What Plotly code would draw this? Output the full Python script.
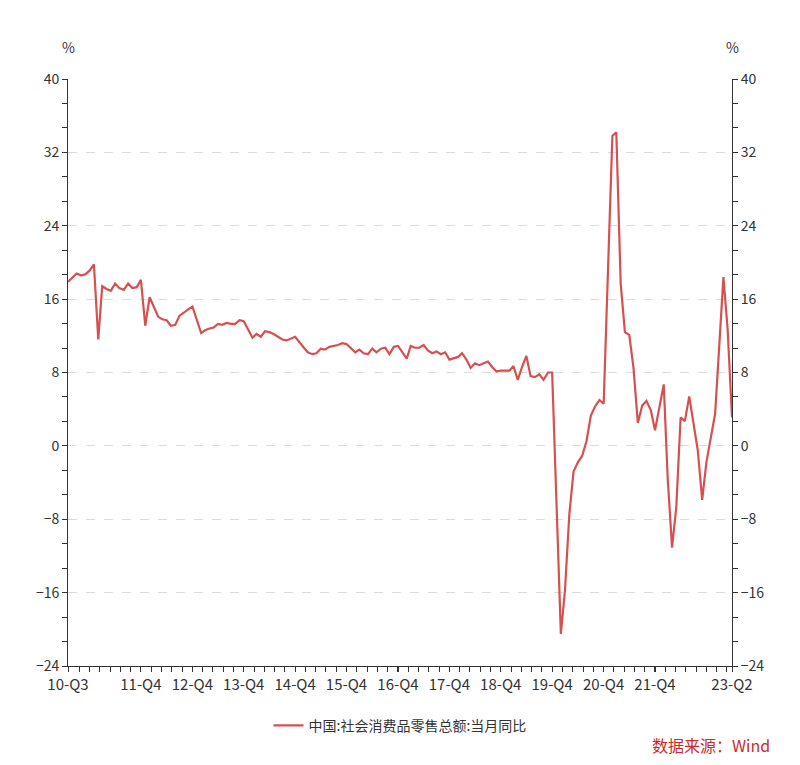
import datetime as dt
import plotly.graph_objects as go

# ---- data (中国:社会消费品零售总额:当月同比, %) ----
MONTHS_2010 = [7, 8, 9, 10, 11, 12]
MONTHS_FULL = [1, 2, 3, 4, 5, 6, 7, 8, 9, 10, 11, 12]
MONTHS_JF = [2, 3, 4, 5, 6, 7, 8, 9, 10, 11, 12]
MONTHS_2023 = [2, 3, 4, 5, 6]

y2010 = [17.9, 18.4, 18.8, 18.6, 18.7, 19.1]
y2011 = [19.8, 11.6, 17.4, 17.1, 16.9, 17.7, 17.2, 17.0, 17.7, 17.2, 17.3, 18.1]
y2012 = [13.1, 16.2, 15.2, 14.1, 13.8, 13.7, 13.1, 13.2, 14.2, 14.5, 14.9, 15.2]
y2013 = [12.3, 12.6, 12.8, 12.9, 13.3, 13.2, 13.4, 13.3, 13.3, 13.7, 13.6]
y2014 = [11.8, 12.2, 11.9, 12.5, 12.4, 12.2, 11.9, 11.6, 11.5, 11.7, 11.9]
y2015 = [10.7, 10.2, 10.0, 10.1, 10.6, 10.5, 10.8, 10.9, 11.0, 11.2, 11.1]
y2016 = [10.2, 10.5, 10.1, 10.0, 10.6, 10.2, 10.6, 10.7, 10.0, 10.8, 10.9]
y2017 = [9.5, 10.9, 10.7, 10.7, 11.0, 10.4, 10.1, 10.3, 10.0, 10.2, 9.4]
y2018 = [9.7, 10.1, 9.4, 8.5, 9.0, 8.8, 9.0, 9.2, 8.6, 8.1, 8.2]
y2019 = [8.2, 8.7, 7.2, 8.6, 9.8, 7.6, 7.5, 7.8, 7.2, 8.0, 8.0]
y2020 = [-20.5, -15.8, -7.5, -2.8, -1.8, -1.1, 0.5, 3.3, 4.3, 5.0, 4.6]
y2021 = [33.8, 34.2, 17.7, 12.4, 12.1, 8.5, 2.5, 4.4, 4.9, 3.9, 1.7]
y2022 = [6.7, -3.5, -11.1, -6.7, 3.1, 2.7, 5.4, 2.5, -0.5, -5.9, -1.8]
y2023 = [3.5, 10.6, 18.4, 12.7, 3.1]

year_blocks = [
    (2010, MONTHS_2010, y2010), (2011, MONTHS_FULL, y2011), (2012, MONTHS_FULL, y2012),
    (2013, MONTHS_JF, y2013), (2014, MONTHS_JF, y2014), (2015, MONTHS_JF, y2015),
    (2016, MONTHS_JF, y2016), (2017, MONTHS_JF, y2017), (2018, MONTHS_JF, y2018),
    (2019, MONTHS_JF, y2019), (2020, MONTHS_JF, y2020), (2021, MONTHS_JF, y2021),
    (2022, MONTHS_JF, y2022), (2023, MONTHS_2023, y2023),
]

tick_dates = ["2010-07-01", "2011-12-01", "2012-12-01", "2013-12-01", "2014-12-01",
              "2015-12-01", "2016-12-01", "2017-12-01", "2018-12-01", "2019-12-01",
              "2020-12-01", "2021-12-01", "2023-06-01"]
tick_labels = ["10-Q3", "11-Q4", "12-Q4", "13-Q4", "14-Q4", "15-Q4", "16-Q4",
               "17-Q4", "18-Q4", "19-Q4", "20-Q4", "21-Q4", "23-Q2"]
y_ticks = [-24, -16, -8, 0, 8, 16, 24, 32, 40]

series_name = "中国:社会消费品零售总额:当月同比"
source_text = "数据来源：Wind"

dates, values = [], []
for yr, months, vals in year_blocks:
    for m, v in zip(months, vals):
        dates.append(f"{yr}-{m:02d}-01")
        values.append(v)

X_START, X_END = "2010-07-01", "2023-06-01"

# minor tick positions: five per year, anchored on each December
d0 = dt.datetime(2010, 7, 1)
d1 = dt.datetime(2023, 6, 1)
anchor = dt.datetime(2010, 12, 1)
step = dt.timedelta(days=365.25 / 5)
minor_vals = []
k = -5
while True:
    d = anchor + k * step
    if d > d1:
        break
    if d >= d0:
        minor_vals.append(d.strftime("%Y-%m-%d %H:%M"))
    k += 1

LINE = "#d65050"
AX = "#333333"
FONT = "Noto Sans CJK SC"

fig = go.Figure()
fig.add_trace(go.Scatter(x=dates, y=values, mode="lines", name=series_name,
                         line=dict(color=LINE, width=2.2), hoverinfo="x+y"))
fig.add_trace(go.Scatter(x=dates, y=values, mode="lines", yaxis="y2", showlegend=False,
                         line=dict(color="rgba(0,0,0,0)", width=0), hoverinfo="skip"))

fig.update_layout(
    width=800, height=765,
    margin=dict(l=68, r=68, t=79, b=99),
    paper_bgcolor="white", plot_bgcolor="white",
    font=dict(family=FONT, size=14, color=AX),
    showlegend=True,
    legend=dict(orientation="h", x=0.5, xanchor="center", y=-0.102, yanchor="middle",
                font=dict(size=14, color=AX), itemwidth=30),
    xaxis=dict(type="date", range=[X_START, X_END],
               showline=True, linecolor=AX, linewidth=1, mirror=False,
               ticks="outside", ticklen=5, tickcolor=AX,
               tickmode="array", tickvals=tick_dates, ticktext=tick_labels,
               showgrid=False, zeroline=False,
               tickfont=dict(size=15, color=AX),
               minor=dict(ticks="outside", ticklen=5, tickcolor=AX, tickmode="array",
                          tickvals=minor_vals, showgrid=False)),
    yaxis=dict(range=[-24, 40], tickmode="array", tickvals=y_ticks,
               showline=True, linecolor=AX, ticks="outside", ticklen=5, tickcolor=AX,
               showgrid=True, gridcolor="#dcdcdc", griddash="dash", gridwidth=1,
               zeroline=False, tickfont=dict(size=14, color=AX),
               minor=dict(ticks="outside", ticklen=5, tickcolor=AX, dtick=8 / 3,
                          tick0=-24, showgrid=False)),
    yaxis2=dict(range=[-24, 40], overlaying="y", side="right", tickmode="array",
                tickvals=y_ticks, showline=True, linecolor=AX, ticks="outside",
                ticklen=5, tickcolor=AX, showgrid=False, zeroline=False,
                tickfont=dict(size=14, color=AX),
                minor=dict(ticks="outside", ticklen=5, tickcolor=AX, dtick=8 / 3,
                           tick0=-24, showgrid=False)),
    annotations=[
        dict(text="%", xref="paper", yref="paper", x=0.0, y=1.0545, showarrow=False,
             xanchor="center", yanchor="middle", font=dict(size=14, color=AX)),
        dict(text="%", xref="paper", yref="paper", x=1.0, y=1.0545, showarrow=False,
             xanchor="center", yanchor="middle", font=dict(size=14, color=AX)),
        dict(text=source_text, xref="paper", yref="paper", x=1.06, y=-0.1346,
             showarrow=False, xanchor="right", yanchor="middle",
             font=dict(size=16, color="#cc2a2a")),
    ],
)

fig.write_html("out.html")
